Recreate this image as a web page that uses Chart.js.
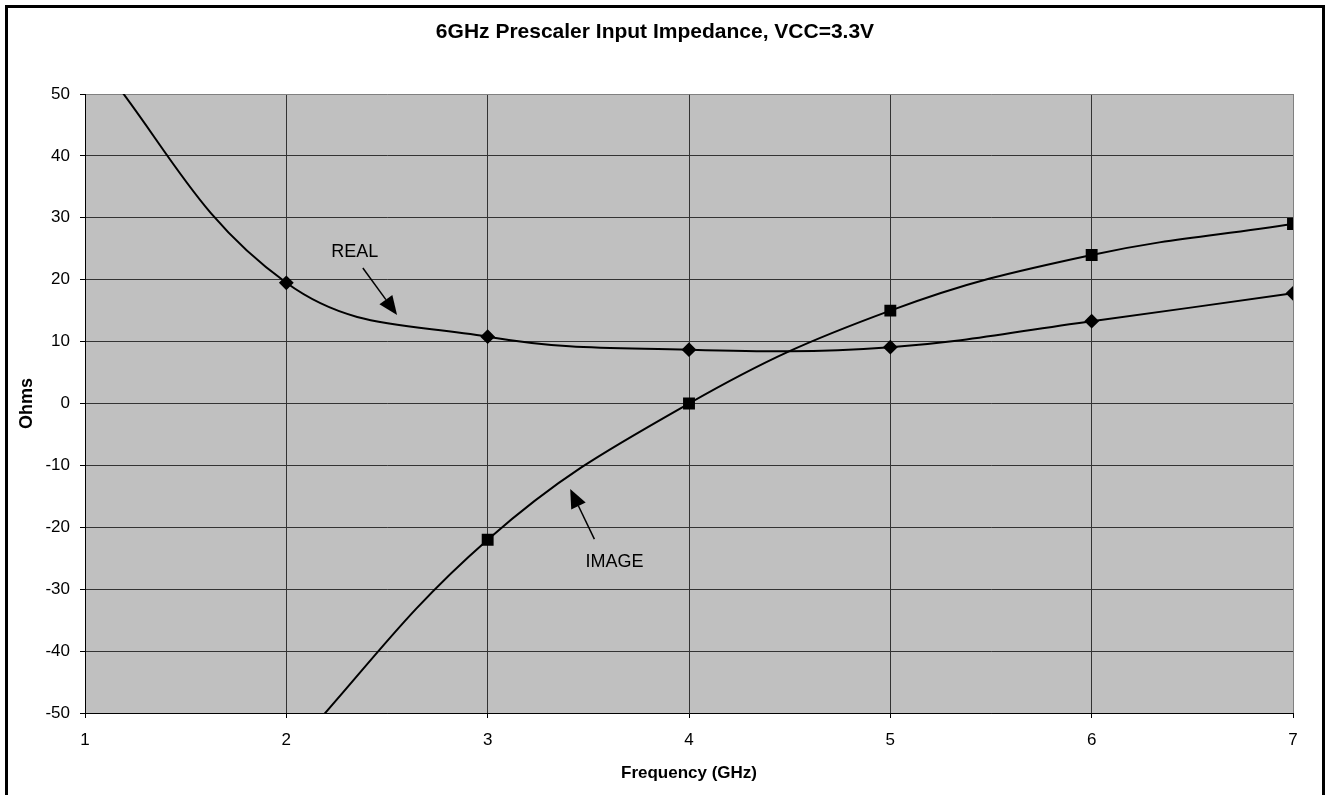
<!DOCTYPE html>
<html>
<head>
<meta charset="utf-8">
<title>6GHz Prescaler Input Impedance</title>
<script src="https://cdn.jsdelivr.net/npm/chart.js@4.4.1/dist/chart.umd.min.js"></script>
<style>
  body { margin: 0; background: #fff; }
  canvas { display: block; }
</style>
</head>
<body>
<canvas id="myChart" width="1327" height="795"></canvas>
<script>
// frequency in GHz, impedance in ohms
const freqReal = [1, 2, 3, 4, 5, 6, 7];
const realOhms = [58, 19.5, 10.8, 8.7, 9.1, 13.3, 17.8];
const freqImage = [2, 3, 4, 5, 6, 7];
const imageOhms = [-57, -22, 0, 15, 24, 29];

const xTicks = [1, 2, 3, 4, 5, 6, 7];
const yTicks = [-50, -40, -30, -20, -10, 0, 10, 20, 30, 40, 50];

// arrow labels, in chart units (GHz, ohms)
const noteText = ['REAL', 'IMAGE'];
const noteLabelAt = [[2.34, 24.5], [3.63, -25.6]];
const noteFrom = [[2.38, 21.9], [3.53, -21.9]];
const noteTo = [[2.55, 14.3], [3.41, -13.8]];

const FONT = "'Liberation Sans', Arial, sans-serif";

const toPoints = (xs, ys) => xs.map((x, i) => ({ x: x, y: ys[i] }));

const framePlugin = {
  id: 'frame',
  beforeDraw(chart) {
    const ctx = chart.ctx;
    const a = chart.chartArea;
    ctx.save();
    ctx.fillStyle = '#fff';
    ctx.fillRect(0, 0, chart.width, chart.height);
    ctx.fillStyle = '#c0c0c0';
    ctx.fillRect(a.left, a.top, a.right - a.left, a.bottom - a.top);
    // outer black frame
    ctx.fillStyle = '#000';
    ctx.fillRect(5, 5, 1320, 3);
    ctx.fillRect(5, 5, 3, chart.height);
    ctx.fillRect(1322, 5, 3, chart.height);
    ctx.restore();
  },
  afterDraw(chart) {
    const ctx = chart.ctx;
    ctx.save();
    ctx.fillStyle = '#000';
    ctx.font = 'bold 21px ' + FONT;
    ctx.textAlign = 'center';
    ctx.textBaseline = 'middle';
    ctx.fillText('6GHz Prescaler Input Impedance, VCC=3.3V', 655, 32);
    ctx.restore();
  }
};

const arrowPlugin = {
  id: 'arrows',
  afterDatasetsDraw(chart) {
    const ctx = chart.ctx;
    const xs = chart.scales.x;
    const ys = chart.scales.y;
    ctx.save();
    ctx.fillStyle = '#000';
    ctx.strokeStyle = '#000';
    ctx.lineWidth = 1.5;
    ctx.font = '18px ' + FONT;
    ctx.textAlign = 'center';
    ctx.textBaseline = 'middle';
    for (let i = 0; i < noteText.length; i++) {
      ctx.fillText(noteText[i], xs.getPixelForValue(noteLabelAt[i][0]), ys.getPixelForValue(noteLabelAt[i][1]));
      const x0 = xs.getPixelForValue(noteFrom[i][0]);
      const y0 = ys.getPixelForValue(noteFrom[i][1]);
      const x1 = xs.getPixelForValue(noteTo[i][0]);
      const y1 = ys.getPixelForValue(noteTo[i][1]);
      const ang = Math.atan2(y1 - y0, x1 - x0);
      const head = 19;
      const hx = x1 - head * Math.cos(ang);
      const hy = y1 - head * Math.sin(ang);
      ctx.beginPath();
      ctx.moveTo(x0, y0);
      ctx.lineTo(hx, hy);
      ctx.stroke();
      ctx.beginPath();
      ctx.moveTo(x1, y1);
      ctx.lineTo(hx + 8 * Math.sin(ang), hy - 8 * Math.cos(ang));
      ctx.lineTo(hx - 8 * Math.sin(ang), hy + 8 * Math.cos(ang));
      ctx.closePath();
      ctx.fill();
    }
    ctx.restore();
  }
};

new Chart('myChart', {
  type: 'line',
  data: {
    datasets: [
      {
        label: 'REAL',
        data: toPoints(freqReal, realOhms),
        borderColor: '#000',
        backgroundColor: '#000',
        borderWidth: 2,
        tension: 0.4,
        capBezierPoints: false,
        pointStyle: 'rectRot',
        pointRadius: 6,
        pointHoverRadius: 6,
        fill: false
      },
      {
        label: 'IMAGE',
        data: toPoints(freqImage, imageOhms),
        borderColor: '#000',
        backgroundColor: '#000',
        borderWidth: 2,
        tension: 0.4,
        capBezierPoints: false,
        pointStyle: 'rect',
        pointRadius: 7,
        pointHoverRadius: 7,
        fill: false
      }
    ]
  },
  options: {
    responsive: false,
    animation: false,
    devicePixelRatio: 1,
    layout: { padding: { top: 94, right: 34, left: 0, bottom: 0 } },
    plugins: {
      legend: { display: false },
      tooltip: { enabled: false }
    },
    scales: {
      x: {
        type: 'linear',
        min: 1,
        max: 7,
        afterFit: (s) => { s.height = 82; },
        afterBuildTicks: (s) => { s.ticks = xTicks.map(v => ({ value: v })); },
        ticks: { color: '#000', font: { family: FONT, size: 17 }, padding: 12 },
        grid: {
          color: (c) => (c.tick && c.tick.value === 7 ? '#808080' : '#333'),
          tickColor: '#000',
          tickLength: 5
        },
        border: { color: '#000', width: 1 },
        title: { display: true, text: 'Frequency (GHz)', color: '#000', font: { family: FONT, size: 17, weight: 'bold' }, padding: { top: 0, bottom: 11 } }
      },
      y: {
        min: -50,
        max: 50,
        afterFit: (s) => { s.width = 85; },
        afterBuildTicks: (s) => { s.ticks = yTicks.map(v => ({ value: v })); },
        ticks: { color: '#000', font: { family: FONT, size: 17 }, padding: 10 },
        grid: {
          color: (c) => (c.tick && c.tick.value === 50 ? '#808080' : '#333'),
          tickColor: '#000',
          tickLength: 5
        },
        border: { color: '#000', width: 1 },
        title: { display: true, text: 'Ohms', color: '#000', font: { family: FONT, size: 18, weight: 'bold' }, padding: { top: 16, bottom: 0 } }
      }
    }
  },
  plugins: [framePlugin, arrowPlugin]
});
</script>
</body>
</html>
